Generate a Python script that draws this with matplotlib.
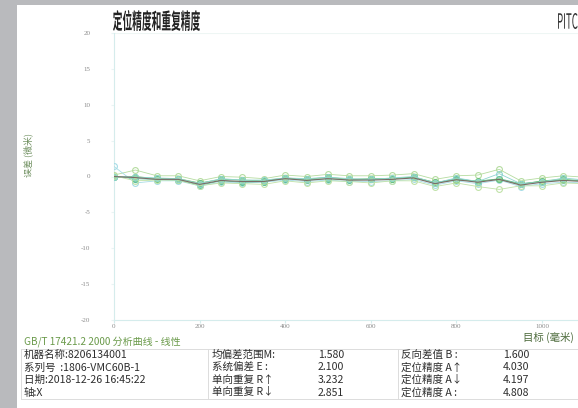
import matplotlib
matplotlib.use("Agg")
import matplotlib.pyplot as plt
from matplotlib.textpath import TextPath
from matplotlib.patches import PathPatch, Rectangle
from matplotlib.font_manager import FontProperties
from matplotlib.transforms import Affine2D
from matplotlib.lines import Line2D

# ---- data ----
targets = [0, 50, 100, 150, 200, 250, 300, 350, 400, 450, 500, 550,
           600, 650, 700, 750, 800, 850, 900, 950, 1000, 1050, 1100, 1150]

runs = {
    "run1": [0.2, 0.9, 0.1, 0.1, -0.6, 0.0, -0.1, -0.3, 0.2, 0.0, 0.3, 0.1,
             0.1, 0.2, 0.4, -0.4, 0.1, 0.2, 1.0, -0.6, -0.2, 0.1, -0.1, 0.0],
    "run2": [1.4, -0.9, -0.6, -0.6, -1.3, -0.8, -0.9, -0.8, -0.5, -0.7, -0.5, -0.7,
             -0.7, -0.6, -0.4, -1.2, -0.6, -1.0, -0.5, -1.4, -1.0, -0.8, -0.9, -0.8],
    "run3": [0.0, -0.3, -0.4, -0.5, -1.2, -0.6, -0.8, -0.7, -0.3, -0.5, -0.3, -0.5,
             -0.4, -0.3, -0.1, -0.9, -0.3, -0.7, -0.3, -1.0, -0.7, -0.5, -0.6, -0.5],
    "run4": [-0.1, 0.0, -0.3, -0.3, -0.9, -0.4, -0.5, -0.6, -0.2, -0.4, -0.1, -0.4,
             -0.3, -0.3, -0.1, -0.8, -0.5, -0.6, -0.4, -1.1, -0.6, -0.4, -0.6, -0.5],
    "run5": [0.1, -0.6, -0.5, -0.5, -1.3, -0.9, -1.0, -1.1, -0.6, -0.9, -0.6, -0.7,
             -0.9, -0.6, -0.6, -1.4, -0.9, -1.4, -1.8, -1.3, -1.3, -0.9, -1.0, -1.0],
    "run6": [0.0, -0.1, -0.2, -0.3, -1.0, -0.3, -0.5, -0.5, -0.2, -0.3, -0.1, -0.3,
             -0.4, -0.2, 0.0, -0.9, -0.2, -0.7, 0.4, -1.0, -0.8, -0.2, -0.5, -0.4],
}
mean_dev = [0.0, -0.15, -0.4, -0.4, -1.1, -0.55, -0.7, -0.7, -0.3, -0.55, -0.3, -0.5,
            -0.5, -0.4, -0.2, -1.0, -0.45, -0.8, -0.4, -1.2, -0.8, -0.55, -0.7, -0.6]

x_ticks = [0, 200, 400, 600, 800, 1000]
y_ticks = [20, 15, 10, 5, 0, -5, -10, -15, -20]

title = "定位精度和重复精度"
standard_line = "GB/T 17421.2 2000 分析曲线 - 线性"
x_label = "目标 (毫米)"
y_label = "误差 (微米)"

info_col1 = ["机器名称:8206134001", "系列号  :1806-VMC60B-1",
             "日期:2018-12-26 16:45:22", "轴:X"]
info_col2_labels = ["均偏差范围M:", "系统偏差 E :", "单向重复 R↑", "单向重复 R↓"]
info_col2_values = ["1.580", "2.100", "3.232", "2.851"]
info_col3_labels = ["反向差值 B :", "定位精度 A↑", "定位精度 A↓", "定位精度 A :"]
info_col3_values = ["1.600", "4.030", "4.197", "4.808"]

# ---- figure ----
W, H = 578, 408
fig = plt.figure(figsize=(W / 100, H / 100), dpi=100)
fig.patch.set_facecolor("#b9babd")

def fx(px):
    return px / W

def fy(py):
    return 1 - py / H

# white page
fig.add_artist(Rectangle((fx(17), 0), 1, fy(5), transform=fig.transFigure,
                         facecolor="white", edgecolor="none", zorder=0))

cjk = ["Noto Sans CJK SC", "DejaVu Sans"]

def condensed_text(s, x0, y0, x1, y1, color="black", weight="bold"):
    """Draw text squeezed into the pixel box (x0, y0)-(x1, y1)."""
    fp = FontProperties(family="Noto Sans CJK SC", weight=weight)
    tp = TextPath((0, 0), s, size=1, prop=fp)
    ext = tp.get_extents()
    sx = (fx(x1) - fx(x0)) / ext.width
    sy = (fy(y0) - fy(y1)) / ext.height
    tr = Affine2D().translate(-ext.x0, -ext.y0).scale(sx, sy).translate(fx(x0), fy(y1))
    fig.add_artist(PathPatch(tp, transform=tr + fig.transFigure,
                             facecolor=color, edgecolor="none", zorder=5))

condensed_text(title, 113, 10, 200, 31, color="#222222", weight="bold")
condensed_text("PITCH", 558, 13, 584, 29, color="#333333", weight="normal")

# ---- plot area (extends past the right edge of the page) ----
px_per_mm = 85.6 / 200
x_max = 1200
ax_left, ax_top, ax_bottom = 114, 33, 320
ax_w = x_max * px_per_mm
ax = fig.add_axes([fx(ax_left), fy(ax_bottom), ax_w / W, (ax_bottom - ax_top) / H])
ax.set_facecolor("none")
ax.set_xlim(0, x_max)
ax.set_ylim(-20, 20)

run_styles = {
    "run1": dict(color="#b5dca0", mfc="none"),
    "run2": dict(color="#a6dce6", mfc="none"),
    "run3": dict(color="#5cbf9a", mfc="#7fcfae"),
    "run4": dict(color="#6cc27a", mfc="#9cd7a4"),
    "run5": dict(color="#c0e2a8", mfc="none"),
    "run6": dict(color="#8fd4d0", mfc="none"),
}
for name, vals in runs.items():
    st = run_styles[name]
    ax.plot(targets, vals, color=st["color"], lw=0.6, marker="o", ms=4.2,
            mfc=st["mfc"], mec=st["color"], mew=0.8, zorder=3)
ax.plot(targets, mean_dev, color="#7a6c66", lw=0.8, zorder=4)

for side in ["top", "right"]:
    ax.spines[side].set_visible(False)
ax.spines["left"].set_color("#d5ecec")
ax.spines["bottom"].set_color("#d5ecec")
ax.spines["left"].set_linewidth(0.8)
ax.spines["bottom"].set_linewidth(0.8)
ax.axhline(20, color="#eef6f4", lw=0.8, zorder=1)

ax.set_xticks(x_ticks)
ax.set_xticklabels([str(t) for t in x_ticks], fontfamily="Liberation Serif",
                   fontsize=5, color="#8a8a8a")
ax.set_yticks(y_ticks)
ax.set_yticklabels([str(t) for t in y_ticks], fontfamily="Liberation Serif",
                   fontsize=5, color="#8a8a8a")
ax.tick_params(axis="x", length=2, color="#d5ecec", pad=1)
ax.tick_params(axis="y", length=2, color="#eaf4f4", pad=15)
for lab in ax.get_yticklabels():
    lab.set_horizontalalignment("right")

# axis titles
fig.text(fx(28), fy(155), y_label, rotation=90, ha="center", va="center",
         fontsize=6.5, color="#6f8f5f", family=cjk)
fig.text(fx(523), fy(337), x_label, ha="left", va="center",
         fontsize=7.5, color="#4d6b3c", family=cjk)

# ---- summary table ----
fig.text(fx(24), fy(342), standard_line, ha="left", va="center",
         fontsize=7.2, color="#6a9a4a", family=cjk)

border = "#dcdcdc"
for yy in (349, 399):
    fig.add_artist(Line2D([fx(21), 1], [fy(yy), fy(yy)], transform=fig.transFigure,
                          color=border, lw=0.7))
for xx in (21, 208, 398):
    fig.add_artist(Line2D([fx(xx), fx(xx)], [fy(349), fy(399)], transform=fig.transFigure,
                          color=border, lw=0.7))

row_y = [355, 367.5, 380, 392.5]
txt_kw = dict(ha="left", va="center", fontsize=7.6, color="#2e2e2e", family=cjk)
for i, yy in enumerate(row_y):
    fig.text(fx(24), fy(yy), info_col1[i], **txt_kw)
    fig.text(fx(212), fy(yy), info_col2_labels[i], **txt_kw)
    fig.text(fx(318), fy(yy), info_col2_values[i], **txt_kw)
    fig.text(fx(401), fy(yy), info_col3_labels[i], **txt_kw)
    fig.text(fx(503), fy(yy), info_col3_values[i], **txt_kw)

fig.savefig("out.png", dpi=100)
